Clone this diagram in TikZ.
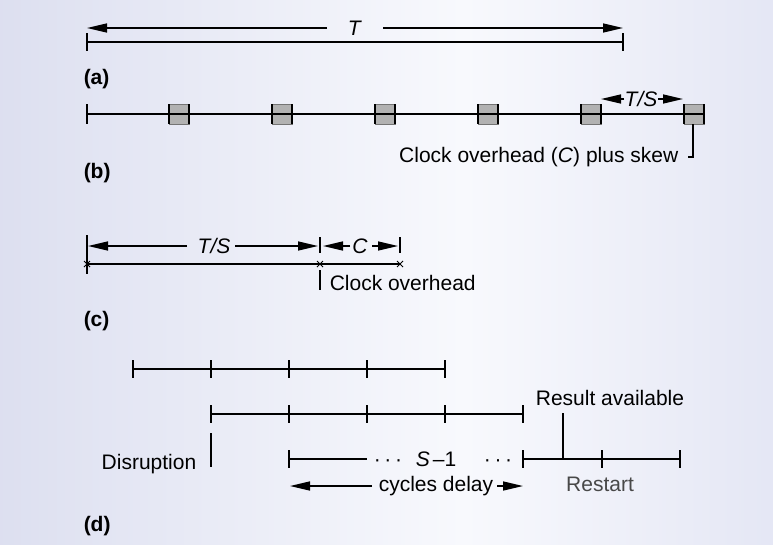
\documentclass[tikz,border=0pt]{standalone}
\usepackage{fontspec}
\setmainfont{Liberation Sans}
\usetikzlibrary{arrows.meta}
\definecolor{bgL}{RGB}{198,202,229}
\definecolor{bgM}{RGB}{248,249,253}
\definecolor{bgR}{RGB}{204,208,234}
\definecolor{sq}{RGB}{178,178,178}
\definecolor{rst}{RGB}{72,72,72}
\pgfdeclarehorizontalshading{bgshade}{100bp}{color(0bp)=(bgL); color(55bp)=(bgM); color(100bp)=(bgR)}
\begin{document}
\begin{tikzpicture}[x=1pt,y=-1pt,line width=1.5pt,line cap=butt,
  lbl/.style={font=\fontsize{21}{25}\selectfont, inner sep=0pt, text=black},
  tag/.style={font=\fontsize{21}{25}\selectfont\bfseries, inner sep=0pt},
  dim/.style={-{Triangle[length=20pt,width=9pt]}},
  sqbox/.style={fill=sq, draw=sq!65!black, line width=0.5pt},
  xmark/.style={line width=0.9pt}]
\useasboundingbox (0,0) rectangle (773,544);
\shade[shading=bgshade] (0,0) rectangle (773,544);

% ---------- (a)
\coordinate (aL) at (87,42); \coordinate (aR) at (623,42);
\draw (aL) -- (aR);
\draw (87,33) -- (87,51); \draw (623,33) -- (623,51);
\node[lbl, anchor=base] (Tlab) at (355,35) {\textit{T}};
\coordinate (TaL) at (87,28); \coordinate (TaR) at (623,28);
\coordinate (TgL) at (327,28); \coordinate (TgR) at (383,28);
\draw[dim] (TgL) -- (TaL);
\draw[dim] (TgR) -- (TaR);
\node[tag, anchor=base west] (la) at (83,84) {(a)};

% ---------- (b)
\foreach \i in {0,...,5}{
  \pgfmathsetmacro{\xs}{169+103*\i}
  \filldraw[sqbox] (\xs,104) rectangle ({\xs+20},124);
}
\coordinate (bL) at (87,114); \coordinate (bR) at (703,114);
\draw (bL) -- (bR);
\draw (87,104) -- (87,124);
\foreach \i in {0,...,5}{
  \pgfmathsetmacro{\xs}{169+103*\i}
  \draw (\xs,104) -- (\xs,124);
  \draw ({\xs+20},104) -- ({\xs+20},124);
}
\node[lbl, anchor=base] (TSb) at (641,106) {\textit{T/S}};
\coordinate (TSbL) at (601,99); \coordinate (TSbR) at (683,99);
\draw[dim] (624,99) -- (TSbL);
\draw[dim] (658,99) -- (TSbR);
\coordinate (sk) at (693,124); \coordinate (skB) at (693,157); \coordinate (skE) at (688,157);
\draw (sk) -- (skB) -- (skE);
\node[lbl, anchor=base east] (ck) at (679,162) {Clock overhead (\textit{C}\/) plus skew};
\node[tag, anchor=base west] (lb) at (83,178) {(b)};

% ---------- (c)
\coordinate (cL) at (87,264); \coordinate (cM) at (320,264); \coordinate (cR) at (400,264);
\draw (cL) -- (cR);
\draw (87,235) -- (87,274);
\draw (320,237) -- (320,253);
\draw (400,237) -- (400,253);
\foreach \xx in {87,320,400}{
  \draw[xmark] (\xx-3,261) -- (\xx+3,267) (\xx-3,267) -- (\xx+3,261);
}
\node[lbl, anchor=base] (TSc) at (214,253) {\textit{T/S}};
\draw[dim] (187,246) -- (88,246);
\draw[dim] (235,246) -- (318,246);
\node[lbl, anchor=base] (Cc) at (360,253) {\textit{C}};
\draw[dim] (350,246) -- (323,246);
\draw[dim] (372,246) -- (398,246);
\draw (320,270) -- (320,290);
\node[lbl, anchor=base west] (co) at (329,290) {Clock overhead};
\node[tag, anchor=base west] (lc) at (83,326) {(c)};

% ---------- (d)
\draw (133,369) -- (445,369);
\foreach \xx in {133,211,289,367,445}{ \draw (\xx,360) -- (\xx,378); }
\draw (211,414) -- (523,414);
\foreach \xx in {211,289,367,445,523}{ \draw (\xx,405) -- (\xx,423); }
\draw (211,433) -- (211,467);
\node[lbl, anchor=base east] (dis) at (197,469) {Disruption};
\draw (289,459) -- (367,459);
\draw (289,450) -- (289,468);
\draw (523,459) -- (680,459);
\foreach \xx in {523,602,680}{ \draw (\xx,450) -- (\xx,468); }
\node[lbl, anchor=base] (dl) at (388,466) {·\hspace{3.6pt}·\hspace{3.6pt}·};
\node[lbl, anchor=base] (dr) at (498,466) {·\hspace{3.6pt}·\hspace{3.6pt}·};
\node[lbl, anchor=base] (s1) at (436,466) {\textit{S}\hspace{3pt}–1};
\draw (563,413) -- (563,459);
\node[lbl, anchor=base] (ra) at (610,405) {Result available};
\node[lbl, anchor=base] (cd) at (436,491) {cycles delay};
\draw[dim] (372,486) -- (290,486);
\draw[dim] (497,486) -- (523,486);
\node[lbl, anchor=base, text=rst] (rs) at (600,491) {Restart};
\node[tag, anchor=base west] (ld) at (83,531) {(d)};
\end{tikzpicture}
\end{document}
